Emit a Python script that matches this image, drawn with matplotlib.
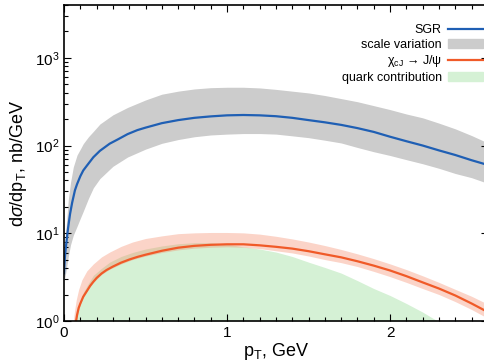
import matplotlib
matplotlib.use('Agg')

import numpy as np
import matplotlib.pyplot as plt
from matplotlib.patches import Patch
from matplotlib.lines import Line2D
from matplotlib.ticker import MultipleLocator, LogLocator

plt.rcParams['font.family'] = ['Liberation Sans', 'DejaVu Sans']
plt.rcParams['mathtext.fontset'] = 'custom'
plt.rcParams['mathtext.rm'] = 'Liberation Sans'
plt.rcParams['mathtext.it'] = 'Liberation Sans:italic'

# SGR central curve
sgr_pt = [0, 0.005, 0.01, 0.016, 0.025, 0.037, 0.05, 0.067, 0.08, 0.1, 0.118, 0.14, 0.18, 0.22,
          0.28, 0.33, 0.39, 0.45, 0.5, 0.6, 0.7, 0.8, 0.9, 1.0, 1.1, 1.2, 1.3, 1.4, 1.5, 1.6,
          1.7, 1.8, 1.9, 2.0, 2.1, 2.2, 2.3, 2.4, 2.5, 2.6]
sgr_val = [3.5, 5.2, 6.6, 8.3, 11.5, 16.6, 22.4, 30.9, 36.3, 44.7, 52, 58.9, 73.6, 87,
           105, 117.5, 135, 150, 160, 180, 195, 207, 215, 221, 223, 221, 216, 207, 195, 184,
           172, 158, 143, 126, 112, 100, 88, 78, 68, 60]

# scale variation band
band_pt = [0, 0.01, 0.026, 0.04, 0.057, 0.08, 0.1, 0.118, 0.15, 0.18, 0.22, 0.3, 0.39, 0.5,
           0.6, 0.7, 0.8, 0.9, 1.0, 1.1, 1.2, 1.3, 1.4, 1.5, 1.6, 1.7, 1.8, 1.9, 2.0, 2.1,
           2.2, 2.3, 2.4, 2.5, 2.6]
band_hi = [4.0, 10, 24, 38, 57, 78, 91, 105, 126, 145, 176, 224, 272, 331,
           385, 417, 442, 457, 462, 462, 454, 437, 417, 398, 372, 343, 316, 285, 257, 229,
           207, 180, 155, 130, 107]
band_lo = [2.8, 3.5, 5.4, 7.4, 9.5, 12, 14.8, 17.8, 25, 33, 42, 58, 74, 91,
           106, 117, 126, 132, 135, 137, 137, 135, 129, 123, 115, 107, 95, 85, 77, 69,
           62, 55, 48, 43, 37]

# chi_cJ -> J/psi feed-down
chi_pt = [0.074, 0.08, 0.09, 0.1, 0.118, 0.14, 0.16, 0.18, 0.2, 0.23, 0.26, 0.3, 0.35, 0.4,
          0.45, 0.5, 0.6, 0.7, 0.8, 0.9, 1.0, 1.1, 1.2, 1.3, 1.4, 1.5, 1.6, 1.7, 1.8, 1.9,
          2.0, 2.1, 2.2, 2.3, 2.4, 2.5, 2.6]
chi_val = [1.0, 1.17, 1.41, 1.58, 1.89, 2.19, 2.51, 2.8, 3.09, 3.47, 3.8, 4.17, 4.62, 5.01,
           5.37, 5.69, 6.31, 6.84, 7.18, 7.38, 7.48, 7.48, 7.28, 7.0, 6.68, 6.24, 5.75, 5.31,
           4.79, 4.27, 3.76, 3.24, 2.75, 2.34, 1.95, 1.58, 1.26]

chi_band_pt = [0.057, 0.065, 0.075, 0.09, 0.11, 0.14, 0.18, 0.23, 0.28, 0.35, 0.42, 0.5, 0.6,
               0.7, 0.8, 0.9, 1.0, 1.1, 1.2, 1.3, 1.4, 1.5, 1.6, 1.7, 1.8, 1.9, 2.0, 2.1,
               2.2, 2.3, 2.4, 2.5, 2.6]
chi_band_hi = [1.0, 1.32, 1.74, 2.29, 2.95, 3.72, 4.47, 5.37, 6.1, 7.08, 7.94, 8.71, 9.33,
               9.89, 10.1, 10.2, 10.2, 10.1, 9.77, 9.23, 8.61, 7.94, 7.24, 6.53, 5.82, 5.13,
               4.47, 3.85, 3.27, 2.75, 2.29, 1.91, 1.55]
chi_band_lo = [1.0, 1.0, 1.0, 1.35, 1.74, 2.19, 2.75, 3.39, 3.89, 4.47, 5.01, 5.5, 6.03,
               6.46, 6.76, 6.92, 7.0, 6.92, 6.68, 6.31, 5.96, 5.5, 5.01, 4.62, 4.17, 3.67,
               3.2, 2.75, 2.34, 2.0, 1.66, 1.35, 1.07]

# quark contribution
quark_pt = [0.067, 0.075, 0.088, 0.1, 0.12, 0.15, 0.18, 0.23, 0.28, 0.35, 0.42, 0.5, 0.6,
            0.7, 0.8, 0.9, 1.0, 1.1, 1.2, 1.3, 1.4, 1.5, 1.6, 1.7, 1.8, 1.9, 2.0, 2.1,
            2.2, 2.29]
quark_val = [1.0, 1.15, 1.45, 1.7, 2.14, 2.69, 3.31, 3.98, 4.68, 5.43, 6.03, 6.61, 7.16,
             7.59, 7.8, 7.8, 7.5, 7.0, 6.61, 6.1, 5.43, 4.68, 4.07, 3.51, 2.88, 2.34, 1.95,
             1.58, 1.26, 1.0]

blue = '#1f5fb4'
orange = '#f05a28'
gray = '#cccccc'
green = '#d5f1d5'

fig = plt.figure(figsize=(4.85, 3.61), dpi=100)
ax = fig.add_axes([0.132, 0.111, 0.874, 0.875])

ax.fill_between(band_pt, band_lo, band_hi, color=gray, lw=0)
ax.plot(sgr_pt, sgr_val, color=blue, lw=1.6)

ax.fill_between(quark_pt, 1, quark_val, color=green, lw=0)
ax.fill_between(chi_band_pt, chi_band_lo, chi_band_hi, color=(246/255, 132/255, 98/255),
                alpha=0.35, lw=0)
ax.plot(chi_pt, chi_val, color=orange, lw=1.6)

ax.set_yscale('log')
ax.set_xlim(0, 2.6)
ax.set_ylim(1, 4000)

ax.xaxis.set_major_locator(MultipleLocator(1))
ax.xaxis.set_minor_locator(MultipleLocator(0.1))
ax.yaxis.set_major_locator(LogLocator(base=10))
ax.yaxis.set_minor_locator(LogLocator(base=10, subs=np.arange(2, 10)))
ax.tick_params(which='both', direction='in', top=True, right=True, labelsize=11, width=0.8)
ax.tick_params(which='major', length=5)
ax.tick_params(which='minor', length=3)
for s in ax.spines.values():
    s.set_linewidth(1.2)

ax.set_xlabel(r'p$_\mathrm{T}$, GeV', fontsize=13, labelpad=1)
ax.set_ylabel(r'd$\sigma$/dp$_\mathrm{T}$, nb/GeV', fontsize=13, labelpad=4)

handles = [Line2D([], [], color=blue, lw=1.6),
           Patch(color=gray),
           Line2D([], [], color=orange, lw=1.6),
           Patch(color=green)]
labels = ['SGR', 'scale variation', r'χ$_\mathrm{cJ}$ → J/ψ', 'quark contribution']
ax.legend(handles, labels, loc='upper right', bbox_to_anchor=(1.0, 0.955), frameon=False,
          markerfirst=False, fontsize=9, handlelength=2.8, handletextpad=0.5,
          labelspacing=0.2, borderaxespad=0)

fig.savefig('out.png', dpi=100)
